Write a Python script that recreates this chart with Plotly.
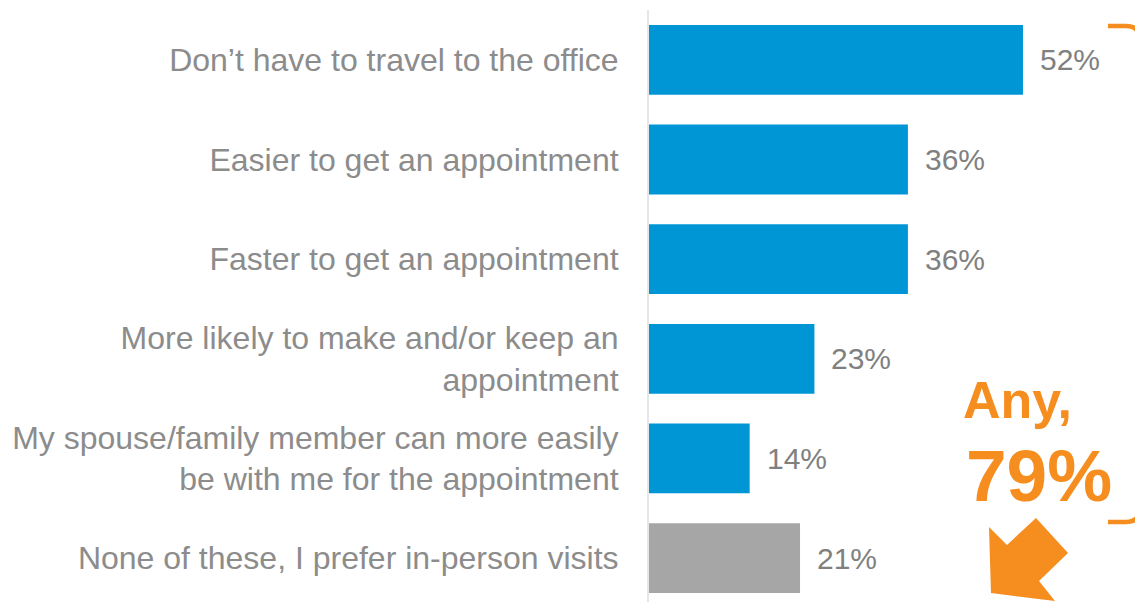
import plotly.graph_objects as go

# Survey data: reasons for preferring virtual visits
categories = [
    "Don’t have to travel to the office",
    "Easier to get an appointment",
    "Faster to get an appointment",
    "More likely to make and/or keep an<br>appointment",
    "My spouse/family member can more easily<br>be with me for the appointment",
    "None of these, I prefer in-person visits",
]
values = [52, 36, 36, 23, 14, 21]
any_total = 79

BLUE = "#0096D6"
GREY_BAR = "#A6A6A6"
LABEL_GREY = "#8C8C8C"
VALUE_GREY = "#808080"
ORANGE = "#F68D1F"
FONT = "Liberation Sans, Arial, sans-serif"

W, H = 1135, 602
M_L, M_R, M_T, M_B = 649, 0, 10, 0
PLOT_W = W - M_L - M_R
PLOT_H = H - M_T - M_B


def px_x(x):
    return (x - M_L) / PLOT_W


def px_y(y):
    return 1 - (y - M_T) / PLOT_H


positions = list(range(len(categories)))
colors = [BLUE] * (len(values) - 1) + [GREY_BAR]

fig = go.Figure(
    go.Bar(
        x=values,
        y=positions,
        orientation="h",
        marker=dict(color=colors, line=dict(width=0)),
        hoverinfo="skip",
    )
)

# value labels right of each bar
for pos, val in zip(positions, values):
    fig.add_annotation(
        x=val, y=pos, xref="x", yref="y",
        text=f"{val}%", showarrow=False,
        xanchor="left", yanchor="middle", xshift=15,
        font=dict(family=FONT, size=30, color=VALUE_GREY),
    )

# "Any" callout
fig.add_annotation(
    x=px_x(1017), y=px_y(400), xref="paper", yref="paper",
    text="<b>Any,</b>", showarrow=False, xanchor="center", yanchor="middle",
    font=dict(family=FONT, size=52, color=ORANGE),
)
fig.add_annotation(
    x=px_x(1039), y=px_y(475), xref="paper", yref="paper",
    text=f"<b>{any_total}%</b>", showarrow=False, xanchor="center", yanchor="middle",
    font=dict(family=FONT, size=73, color=ORANGE),
)

# bracket grouping the first five items
bracket = [("M", 1108, 26), ("L", 1126, 26), ("Q", 1140, 26), ("", 1140, 40),
           ("L", 1140, 508), ("Q", 1140, 522), ("", 1126, 522), ("L", 1108, 522)]
path = " ".join(f"{c} {px_x(x):.5f} {px_y(y):.5f}".strip() for c, x, y in bracket)
fig.add_shape(type="path", xref="paper", yref="paper", path=path,
              line=dict(color=ORANGE, width=4.5), layer="above")

# block arrow pointing down-left
arrow_pts = [(991, 593), (989, 527), (1007, 545), (1036, 518),
             (1068, 553), (1039, 581), (1055, 601)]
apath = "M " + " L ".join(f"{px_x(x):.5f} {px_y(y):.5f}" for x, y in arrow_pts) + " Z"
fig.add_shape(type="path", xref="paper", yref="paper", path=apath,
              fillcolor=ORANGE, line=dict(width=0), layer="above")

fig.update_layout(
    width=W, height=H,
    margin=dict(l=M_L, r=M_R, t=M_T, b=M_B, pad=0),
    paper_bgcolor="white", plot_bgcolor="white",
    showlegend=False,
    bargap=0.3,
    font=dict(family=FONT),
    xaxis=dict(range=[0, PLOT_W / 7.192], visible=False, fixedrange=True),
    yaxis=dict(
        range=[5.44, -0.5],
        tickvals=positions, ticktext=categories,
        tickfont=dict(family=FONT, size=32, color=LABEL_GREY),
        ticks="", ticklabelstandoff=22,
        showline=True, linecolor="#E6E6E6", linewidth=2,
        showgrid=False, zeroline=False, layer="below traces",
        fixedrange=True,
    ),
)

fig.write_html("out.html", config={"displayModeBar": False})
